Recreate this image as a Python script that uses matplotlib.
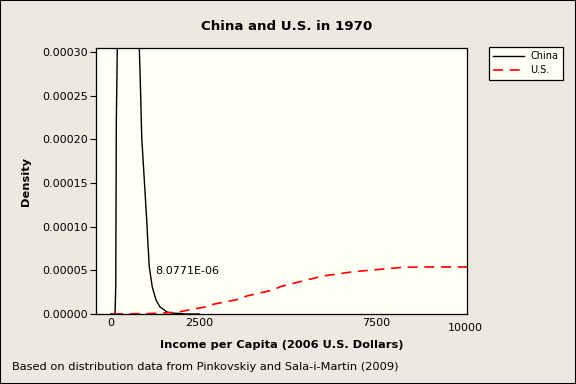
import matplotlib
matplotlib.use('Agg')
import matplotlib.pyplot as plt
from matplotlib.patches import Rectangle

# China 1970 density
china_x = [0, 100, 127, 147, 163, 192, 400, 811, 850, 879, 952, 1020, 1048, 1093,
           1177, 1282, 1394, 1487, 1592, 1750, 1958, 2100, 2500]
china_y = [0, 0, 0, 0.000031, 0.00022, 0.00031, 0.0022, 0.000305, 0.00025, 0.0002025,
           0.0001533, 0.0001075, 0.0000847, 0.0000538, 0.0000309, 0.000016, 0.000008,
           0.0000055, 0.0000023, 0.0000010, 0.0000006, 0, 0]

# U.S. 1970 density
us_x = [70, 1113, 1865, 2051, 2710, 2896, 3648, 3837, 4586, 4775, 5527, 5994, 6839,
        7780, 8248, 8718, 10050]
us_y = [0, 0.0000005, 0.0000019, 0.0000034, 0.0000084, 0.0000111, 0.0000172, 0.0000206,
        0.0000275, 0.0000312, 0.0000389, 0.0000435, 0.0000484, 0.0000518, 0.0000535,
        0.0000538, 0.0000538]

xticks = [0, 2500, 7500, 10000]
yticks = [0, 0.00005, 0.0001, 0.00015, 0.0002, 0.00025, 0.0003]
ytick_labels = ['0.00000', '0.00005', '0.00010', '0.00015', '0.00020', '0.00025', '0.00030']

bg = '#EDE9E1'
panel = '#FFFFF6'

fig = plt.figure(figsize=(5.76, 3.84), dpi=100, facecolor=bg)
ax = fig.add_axes([96/576, 1 - 314/384, (467 - 96)/576, (314 - 48)/384])
ax.set_facecolor(panel)

ax.plot(china_x, china_y, color='black', lw=1.0, label='China')
ax.plot(us_x, us_y, color='red', lw=1.2, dashes=(6, 4), label='U.S.')

ax.set_xlim(-410, 10050)
ax.set_ylim(0, 0.0003046)
ax.set_xticks(xticks)
ax.set_xticklabels([str(t) for t in xticks])
ax.set_yticks(yticks)
ax.set_yticklabels(ytick_labels)
ax.tick_params(axis='x', length=0, pad=3, labelsize=8)
ax.tick_params(axis='y', length=4, width=0.8, direction='out', pad=2, labelsize=8)
ax.xaxis.get_major_ticks()[-1].set_pad(6.5)
for s in ax.spines.values():
    s.set_linewidth(0.9)

ax.text(1254, 0.0000495, '8.0771E-06', fontsize=8, ha='left', va='center')

ax.set_xlabel('Income per Capita (2006 U.S. Dollars)', fontsize=8.2, fontweight='bold', labelpad=5)
ax.set_ylabel('Density', fontsize=8.2, fontweight='bold', labelpad=8)
fig.text(287/576, 1 - 27/384, 'China and U.S. in 1970', fontsize=9.6, fontweight='bold',
         ha='center', va='center')
fig.text(12/576, 1 - 367/384, 'Based on distribution data from Pinkovskiy and Sala-i-Martin (2009)',
         fontsize=8.2, ha='left', va='center')

leg = ax.legend(loc='upper left', bbox_to_anchor=(489/576, 1 - 47/384), bbox_transform=fig.transFigure,
                fontsize=7, frameon=True, fancybox=False, handlelength=3.2, borderpad=0.45,
                labelspacing=0.4, handletextpad=0.6, borderaxespad=0)
leg.get_frame().set_edgecolor('black')
leg.get_frame().set_facecolor(panel)
leg.get_frame().set_linewidth(0.9)
leg.get_frame().set_alpha(1)

fig.patches.append(Rectangle((0, 0), 1, 1, transform=fig.transFigure, fill=False,
                             edgecolor='black', lw=1.5))

fig.savefig('out.png', dpi=100, facecolor=bg)
